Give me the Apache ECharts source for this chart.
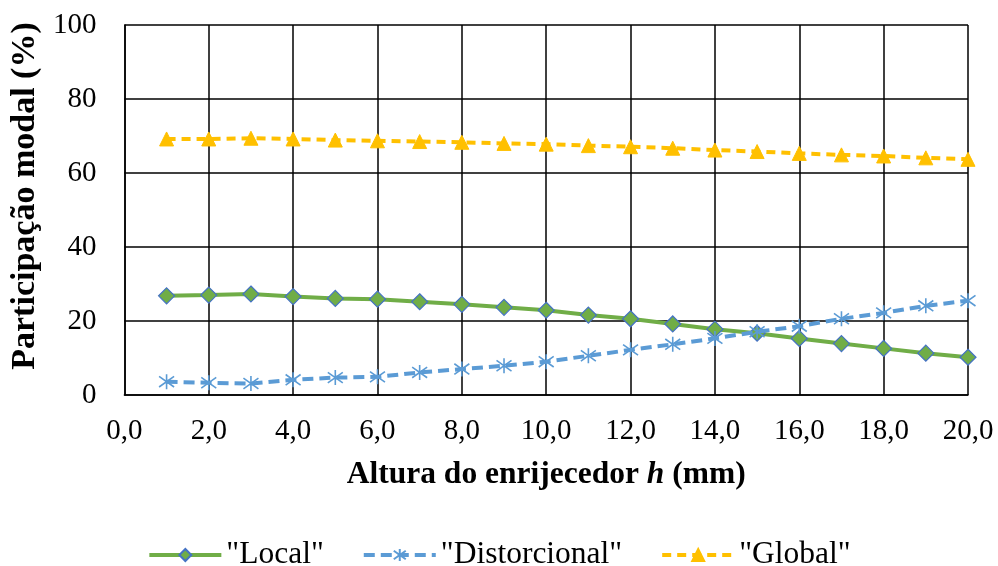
<!DOCTYPE html>
<html>
<head>
<meta charset="utf-8">
<script src="https://cdn.jsdelivr.net/npm/echarts@6/dist/echarts.min.js"></script>
<style>
  html, body { margin: 0; padding: 0; background: #fff; }
  #chart { width: 998px; height: 566px; }
</style>
</head>
<body>
<div id="chart"></div>
<script>
// Stiffener height h (mm)
const alturas = [1, 2, 3, 4, 5, 6, 7, 8, 9, 10, 11, 12, 13, 14, 15, 16, 17, 18, 19, 20];
// Modal participation (%) per mode
const local = [26.8, 27.0, 27.3, 26.6, 26.1, 25.9, 25.2, 24.5, 23.7, 22.9, 21.6, 20.6, 19.2, 17.8, 16.7, 15.3, 13.9, 12.6, 11.3, 10.2];
const distorcional = [3.6, 3.3, 3.1, 4.1, 4.7, 4.9, 6.1, 7.0, 7.9, 9.0, 10.6, 12.2, 13.7, 15.3, 17.1, 18.6, 20.6, 22.2, 24.1, 25.5];
const global = [69.2, 69.2, 69.4, 69.2, 68.9, 68.7, 68.5, 68.3, 68.0, 67.8, 67.4, 67.1, 66.7, 66.2, 65.8, 65.3, 64.9, 64.6, 64.1, 63.7];
const nomes = ['"Local"', '"Distorcional"', '"Global"'];

const serif = '"Liberation Serif", "Times New Roman", serif';
const pares = (ys) => alturas.map((x, i) => [x, ys[i]]);
// asterisk marker: vertical stroke plus an X
const asterisco = 'path://M10,0L10,20M2.9,2.9L17.1,17.1M2.9,17.1L17.1,2.9';

const chart = echarts.init(document.getElementById('chart'));
chart.setOption({
  animation: false,
  backgroundColor: '#fff',
  textStyle: { fontFamily: serif, color: '#000' },
  grid: { left: 124, right: 30, top: 25, bottom: 171, containLabel: false },
  legend: {
    top: 534,
    left: 'center',
    itemWidth: 72,
    itemHeight: 15,
    itemGap: 38,
    lineStyle: { width: 4 },
    textStyle: { fontFamily: serif, fontSize: 31.5, color: '#000' },
    data: nomes
  },
  xAxis: {
    type: 'value', min: 0, max: 20, interval: 2,
    name: '{b|Altura do enrijecedor }{i|h}{b| (mm)}',
    nameLocation: 'middle', nameGap: 64,
    nameTextStyle: {
      rich: {
        b: { fontFamily: serif, fontSize: 31.5, fontWeight: 'bold', color: '#000' },
        i: { fontFamily: serif, fontSize: 31.5, fontWeight: 'bold', fontStyle: 'italic', color: '#000' }
      }
    },
    axisLine: { show: true, lineStyle: { color: '#000', width: 1.5 } },
    axisTick: { show: false },
    axisLabel: {
      fontFamily: serif, fontSize: 29, color: '#000', margin: 22,
      formatter: (v) => v.toFixed(1).replace('.', ',')
    },
    splitLine: { show: true, lineStyle: { color: '#000', width: 1.5 } }
  },
  yAxis: {
    type: 'value', min: 0, max: 100, interval: 20,
    name: 'Participação modal (%)',
    nameLocation: 'middle', nameGap: 81,
    nameTextStyle: {
      fontFamily: serif, fontSize: 34, fontWeight: 'bold', color: '#000',
      padding: [0, 0, 0, 28]
    },
    axisLine: { show: true, lineStyle: { color: '#000', width: 1.5 } },
    axisTick: { show: false },
    axisLabel: { fontFamily: serif, fontSize: 29, color: '#000', margin: 28 },
    splitLine: { show: true, lineStyle: { color: '#000', width: 1.5 } }
  },
  series: [
    {
      name: nomes[0], type: 'line', data: pares(local),
      symbol: 'diamond', symbolSize: 16,
      lineStyle: { color: '#70AD47', width: 4 },
      itemStyle: { color: '#70AD47', borderColor: '#4472C4', borderWidth: 1.2 },
      z: 3
    },
    {
      name: nomes[1], type: 'line', data: pares(distorcional),
      symbol: asterisco, symbolSize: 15,
      lineStyle: { color: '#5B9BD5', width: 4, type: [11, 6] },
      itemStyle: { color: '#5B9BD5', borderColor: '#5B9BD5', borderWidth: 1.6 },
      z: 4
    },
    {
      name: nomes[2], type: 'line', data: pares(global),
      symbol: 'triangle', symbolSize: 14,
      lineStyle: { color: '#FFC000', width: 4, type: [9, 6] },
      itemStyle: { color: '#FFC000', borderColor: '#FFC000', borderWidth: 1 },
      z: 3
    }
  ]
});
</script>
</body>
</html>
